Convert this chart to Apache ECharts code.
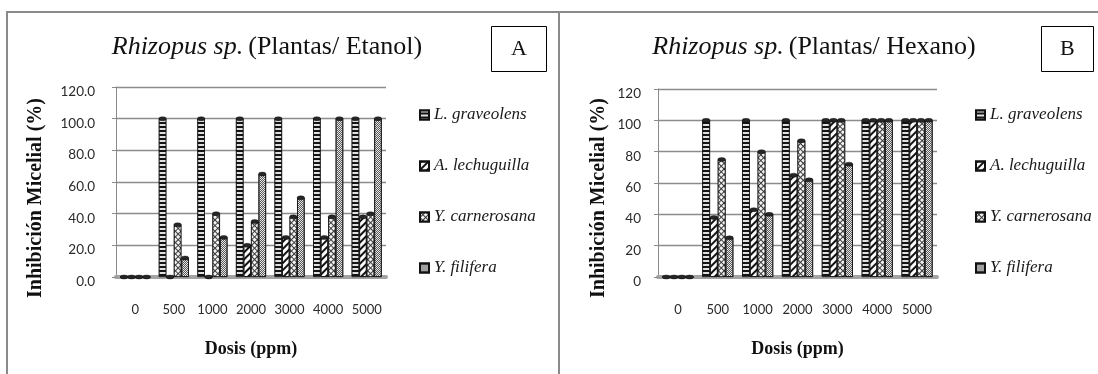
<!DOCTYPE html>
<html>
<head>
<meta charset="utf-8">
<script src="https://cdn.jsdelivr.net/npm/echarts@6/dist/echarts.min.js"></script>
<style>
  html, body { margin: 0; padding: 0; background: #fff; }
  #wrap { position: relative; width: 1098px; height: 374px; overflow: hidden; background: #fff; }
  .frame { position: absolute; background: #8a8a8a; }
  #chart { position: absolute; left: 0; top: 0; width: 1098px; height: 374px; }
</style>
</head>
<body>
<div id="wrap">
  <div class="frame" style="left:6px; top:11px; width:1092px; height:2px;"></div>
  <div class="frame" style="left:6px; top:11px; width:2px; height:363px;"></div>
  <div class="frame" style="left:558px; top:11px; width:2px; height:363px;"></div>
  <div id="chart"></div>
</div>
<script>
// Doses (ppm) on the category axis
const categories = ['0', '500', '1000', '2000', '3000', '4000', '5000'];
const speciesNames = ['L. graveolens', 'A. lechuguilla', 'Y. carnerosana', 'Y. filifera'];

// Mycelial inhibition (%) with ethanol extracts
const etanolGraveolens   = [0, 100, 100, 100, 100, 100, 100];
const etanolLechuguilla  = [0, 0, 0, 20, 25, 25, 38];
const etanolCarnerosana  = [0, 33, 40, 35, 38, 38, 40];
const etanolFilifera     = [0, 12, 25, 65, 50, 100, 100];

// Mycelial inhibition (%) with hexane extracts
const hexanoGraveolens   = [0, 100, 100, 100, 100, 100, 100];
const hexanoLechuguilla  = [0, 38, 43, 65, 100, 100, 100];
const hexanoCarnerosana  = [0, 75, 80, 87, 100, 100, 100];
const hexanoFilifera     = [0, 25, 40, 62, 72, 100, 100];

// Value axis ticks
const yTicks = [0, 20, 40, 60, 80, 100, 120];

const SERIF = '"Liberation Serif", "Times New Roman", serif';
const SANS = 'Lato, "Liberation Sans", sans-serif';

// Fill patterns of the four species
const patterns = [
  { color: '#141414', decal: { symbol: 'rect', symbolSize: 1, color: 'rgba(235,235,235,0.95)', dashArrayX: [1, 0], dashArrayY: [1.3, 1.5], rotation: 0 } },
  { color: '#fbfbfb', decal: { symbol: 'rect', symbolSize: 1, color: '#111', dashArrayX: [1, 0], dashArrayY: [1.3, 2.2], rotation: -Math.PI / 4 } },
  { color: '#3a3a3a', decal: { symbol: 'rect', symbolSize: 1, color: '#f2f2f2', dashArrayX: [2.2, 1], dashArrayY: [2.2, 1], rotation: Math.PI / 4 } },
  { color: '#e6e6e6', decal: { symbol: 'rect', symbolSize: 1, color: '#5a5a5a', dashArrayX: [[1, 1], [0, 1, 1, 0]], dashArrayY: [1, 0], rotation: 0 } }
];

const panels = [
  { values: [etanolGraveolens, etanolLechuguilla, etanolCarnerosana, etanolFilifera],
    grid: { left: 116, top: 87, width: 270, height: 190 }, gap: 0.22, labelMargin: 21,
    fmt: v => v.toFixed(1) },
  { values: [hexanoGraveolens, hexanoLechuguilla, hexanoCarnerosana, hexanoFilifera],
    grid: { left: 658, top: 89, width: 279, height: 188 }, gap: 0.22, labelMargin: 17,
    fmt: v => String(v) }
];

const grids = [], xAxes = [], yAxes = [], series = [];

panels.forEach((p, pi) => {
  grids.push(p.grid);
  xAxes.push({
    type: 'category', gridIndex: pi, data: categories,
    axisLine: { show: true, lineStyle: { color: '#a3a3a3', width: 4 } },
    axisTick: { show: false },
    axisLabel: { color: '#2a2a2a', fontFamily: SANS, fontSize: 13, margin: 26, interval: 0 },
    name: 'Dosis (ppm)', nameLocation: 'middle', nameGap: 63,
    nameTextStyle: { fontFamily: SERIF, fontWeight: 'bold', fontSize: 18, color: '#111' }
  });
  yAxes.push({
    type: 'value', gridIndex: pi, min: yTicks[0], max: yTicks[yTicks.length - 1], interval: yTicks[1] - yTicks[0],
    axisLine: { show: true, lineStyle: { color: '#8a8a8a', width: 1 } },
    axisTick: { show: true, length: 4, lineStyle: { color: '#8a8a8a' } },
    axisLabel: { color: '#2a2a2a', fontFamily: SANS, fontSize: 13.5, margin: p.labelMargin,
                 verticalAlign: 'top', lineHeight: 9, formatter: p.fmt },
    splitLine: { show: true, lineStyle: { color: '#8c8c8c', width: 1.3 } }
  });
  p.values.forEach((vals, k) => {
    series.push({
      type: 'bar', name: speciesNames[k], xAxisIndex: pi, yAxisIndex: pi,
      data: vals, barGap: '0%', barCategoryGap: (p.gap * 100) + '%',
      itemStyle: Object.assign({ borderColor: '#111', borderWidth: 0.8 }, patterns[k]),
      emphasis: { disabled: true }, animation: false, z: 2
    });
  });
  // Elliptical caps on top of each column
  p.values.forEach((vals, k) => {
    series.push({
      type: 'custom', name: 'cap-' + pi + '-' + k, xAxisIndex: pi, yAxisIndex: pi,
      data: vals.map((v, i) => [i, v]), z: 3, animation: false, silent: true,
      renderItem: (params, api) => {
        const pt = api.coord([api.value(0), api.value(1)]);
        const band = api.size([1, 0])[0];
        const bw = band * (1 - p.gap) / 4;
        const cx = pt[0] + (k - 1.5) * bw;
        const rx = bw / 2;
        return {
          type: 'circle', x: cx, y: pt[1], scaleY: 2 / rx,
          shape: { cx: 0, cy: 0, r: rx },
          style: { fill: '#262626', stroke: '#000', lineWidth: 0.5 }
        };
      }
    });
  });
});

const legendBase = {
  orient: 'vertical', itemWidth: 9, itemHeight: 9, itemGap: 33, icon: 'rect',
  data: speciesNames, selectedMode: false,
  textStyle: { fontFamily: SERIF, fontStyle: 'italic', fontSize: 17, color: '#1a1a1a', lineHeight: 18 }
};

const titleRich = {
  i: { fontFamily: SERIF, fontStyle: 'italic', fontWeight: 'normal', fontSize: 26, color: '#111' },
  n: { fontFamily: SERIF, fontStyle: 'normal', fontWeight: 'normal', fontSize: 26, color: '#111' }
};

const chart = echarts.init(document.getElementById('chart'), null, { renderer: 'canvas' });
chart.setOption({
  backgroundColor: 'transparent',
  animation: false,
  title: [
    { text: '{i|Rhizopus sp.} {n|(Plantas/ Etanol)}', left: 262, top: 29, textAlign: 'center',
      textStyle: { fontWeight: 'normal', rich: titleRich } },
    { text: '{i|Rhizopus sp.} {n|(Plantas/ Hexano)}', left: 809, top: 29, textAlign: 'center',
      textStyle: { fontWeight: 'normal', rich: titleRich } },
    { text: 'A', left: 491, top: 26, borderWidth: 1, borderColor: '#000', padding: [12, 20],
      textStyle: { fontFamily: SERIF, fontSize: 22, fontWeight: 'normal', color: '#111', lineHeight: 22 } },
    { text: 'B', left: 1041, top: 26, borderWidth: 1, borderColor: '#000', padding: [12, 19],
      textStyle: { fontFamily: SERIF, fontSize: 22, fontWeight: 'normal', color: '#111', lineHeight: 22 } }
  ],
  legend: [
    Object.assign({}, legendBase, { left: 414, top: 101 }),
    Object.assign({}, legendBase, { left: 970, top: 101 })
  ],
  graphic: [
    { type: 'text', x: 36, y: 198, rotation: Math.PI / 2,
      style: { text: 'Inhibición Micelial (%)', fontFamily: SERIF, fontWeight: 'bold', fontSize: 20,
               fill: '#111', textAlign: 'center', textVerticalAlign: 'middle' } },
    { type: 'text', x: 599, y: 198, rotation: Math.PI / 2,
      style: { text: 'Inhibición Micelial (%)', fontFamily: SERIF, fontWeight: 'bold', fontSize: 20,
               fill: '#111', textAlign: 'center', textVerticalAlign: 'middle' } }
  ],
  grid: grids,
  xAxis: xAxes,
  yAxis: yAxes,
  series: series
});
</script>
</body>
</html>
